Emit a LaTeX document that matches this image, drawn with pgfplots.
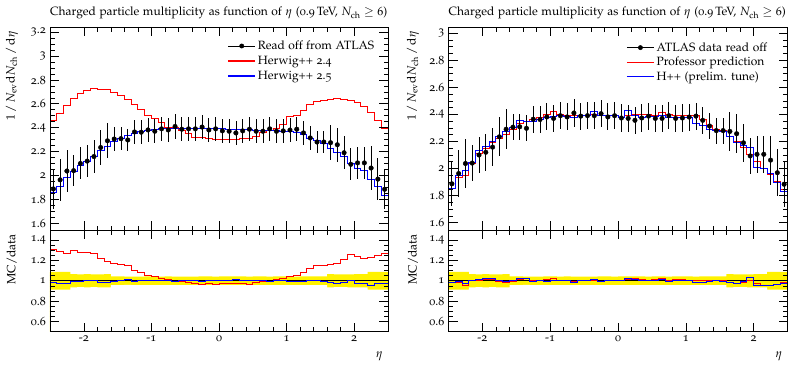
\documentclass[border=0pt]{standalone}
\usepackage[T1]{fontenc}
\usepackage[osf]{mathpazo}
\usepackage{pgfplots}
\pgfplotsset{compat=1.18}
\usepackage{pgfplotstable}

% xlo: bin left edge, xc: bin centre, d: data, e: data error,
% a: Herwig++ 2.4, b: Herwig++ 2.5, c: Professor prediction, f: H++ (prelim. tune)
\pgfplotstableread{
xlo xc d e a b c f
-2.5 -2.45 1.887 0.166 2.460 1.855 1.856 1.856
-2.4 -2.35 1.963 0.173 2.520 1.910 1.935 1.950
-2.3 -2.25 2.037 0.179 2.583 1.985 1.950 1.985
-2.2 -2.15 2.040 0.131 2.642 2.035 2.040 2.045
-2.1 -2.05 2.100 0.134 2.683 2.080 2.110 2.130
-2.0 -1.95 2.120 0.136 2.711 2.115 2.150 2.160
-1.9 -1.85 2.158 0.138 2.730 2.160 2.190 2.200
-1.8 -1.75 2.234 0.143 2.717 2.205 2.220 2.240
-1.7 -1.65 2.290 0.147 2.717 2.245 2.250 2.270
-1.6 -1.55 2.305 0.097 2.694 2.280 2.290 2.300
-1.5 -1.45 2.308 0.097 2.667 2.310 2.335 2.355
-1.4 -1.35 2.297 0.096 2.633 2.333 2.350 2.350
-1.3 -1.25 2.364 0.099 2.595 2.350 2.360 2.350
-1.2 -1.15 2.362 0.099 2.550 2.365 2.375 2.360
-1.1 -1.05 2.381 0.100 2.505 2.380 2.400 2.375
-1.0 -0.95 2.370 0.100 2.475 2.385 2.420 2.385
-0.9 -0.85 2.390 0.100 2.440 2.390 2.400 2.390
-0.8 -0.75 2.381 0.100 2.404 2.390 2.395 2.385
-0.7 -0.65 2.410 0.101 2.400 2.395 2.395 2.375
-0.6 -0.55 2.387 0.100 2.376 2.395 2.395 2.390
-0.5 -0.45 2.390 0.100 2.347 2.395 2.395 2.390
-0.4 -0.35 2.390 0.100 2.320 2.395 2.400 2.420
-0.3 -0.25 2.405 0.101 2.320 2.395 2.395 2.395
-0.2 -0.15 2.381 0.100 2.310 2.390 2.390 2.395
-0.1 -0.05 2.390 0.100 2.300 2.390 2.390 2.395
0.0 0.05 2.373 0.100 2.300 2.390 2.377 2.380
0.1 0.15 2.370 0.100 2.300 2.385 2.390 2.430
0.2 0.25 2.356 0.099 2.300 2.385 2.400 2.390
0.3 0.35 2.373 0.100 2.310 2.385 2.400 2.380
0.4 0.45 2.387 0.100 2.310 2.385 2.400 2.385
0.5 0.55 2.370 0.100 2.330 2.380 2.395 2.385
0.6 0.65 2.370 0.100 2.360 2.380 2.414 2.390
0.7 0.75 2.390 0.100 2.376 2.380 2.400 2.375
0.8 0.85 2.370 0.100 2.395 2.375 2.390 2.375
0.9 0.95 2.373 0.100 2.430 2.370 2.395 2.380
1.0 1.05 2.380 0.100 2.490 2.365 2.390 2.380
1.1 1.15 2.387 0.100 2.500 2.360 2.395 2.335
1.2 1.25 2.356 0.099 2.545 2.340 2.360 2.320
1.3 1.35 2.314 0.097 2.590 2.310 2.320 2.290
1.4 1.45 2.280 0.096 2.616 2.290 2.290 2.280
1.5 1.55 2.280 0.096 2.625 2.265 2.278 2.270
1.6 1.65 2.274 0.146 2.640 2.225 2.235 2.235
1.7 1.75 2.257 0.144 2.648 2.190 2.196 2.190
1.8 1.85 2.190 0.140 2.640 2.155 2.154 2.170
1.9 1.95 2.093 0.134 2.630 2.100 2.104 2.155
2.0 2.05 2.105 0.135 2.610 2.055 2.055 2.010
2.1 2.15 2.105 0.135 2.575 2.040 1.998 2.000
2.2 2.25 2.062 0.181 2.530 1.970 1.956 1.965
2.3 2.35 1.969 0.173 2.460 1.910 1.906 1.895
2.4 2.45 1.884 0.166 2.390 1.835 1.844 1.830
2.5 nan 1.884 0.166 2.390 1.835 1.844 1.830
}\tbl

\pgfplotsset{
  rivet/.style={
    scale only axis,
    xmin=-2.5, xmax=2.5,
    tick align=inside,
    xtick={-2,-1,0,1,2},
    minor x tick num=4,
    minor y tick num=3,
    major tick length=9pt,
    minor tick length=4.5pt,
    every tick/.style={black, line width=0.6pt},
    axis line style={line width=0.8pt},
    axis on top,
    /pgf/number format/assume math mode=true,
  },
  mainax/.style={
    rivet,
    height=203pt,
    xticklabels={},
    ylabel style={at={(axis description cs:-0.104,1)}, anchor=east, yshift=3pt},
    ylabel={$1\mkern3mu/\mkern3mu N_{\mathrm{ev}}\mathrm{d}N_{\mathrm{ch}}\mkern3mu/\mkern3mu\mathrm{d}\eta$},
    title style={at={(axis description cs:0,1)}, anchor=base west, yshift=5pt, inner sep=0pt},
    title={Charged particle multiplicity as function of $\eta$ (0.9\,TeV, $N_{\mathrm{ch}} \geq 6$)},
    legend cell align=left,
    legend style={draw=none, fill=none, inner sep=1pt},
  },
  ratioax/.style={
    rivet,
    height=101.5pt,
    ymin=0.5, ymax=1.5,
    ytick={0.6,0.8,1,1.2,1.4},
    ylabel style={at={(axis description cs:-0.104,1)}, anchor=east, yshift=3pt},
    ylabel={MC/data},
    xlabel={$\eta$},
    xlabel style={at={(axis description cs:1,0)}, anchor=base east, yshift=-26pt, xshift=-1pt},
  },
  datastyle/.style={black, only marks, mark=*, mark size=2.3pt,
    error bars/y dir=both, error bars/y explicit, error bars/error mark=none,
    error bars/error bar style={line width=0.8pt, black}},
  histo/.style={const plot, line width=1pt},
}

\begin{document}
\fontsize{12}{14.4}\selectfont
\begin{tikzpicture}[font=\fontsize{12}{14.4}\selectfont]
\path[use as bounding box] (0pt,0pt) rectangle (789pt,-364pt);

% ---------------- left main ----------------
\begin{axis}[mainax, at={(50pt,-27pt)}, anchor=north west, width=338pt,
  ymin=1.543, ymax=3.243, ytick={1.6,1.8,2,2.2,2.4,2.6,2.8,3,3.2},
  legend style={at={(axis description cs:0.522,0.948)}, anchor=north west, row sep=0.8pt}]
\addlegendimage{legend image code/.code={\draw[black, line width=0.8pt] (0pt,0pt) -- (27pt,0pt); \fill[black] (13.5pt,0pt) circle (2.2pt);}}
\addlegendentry{Read off from ATLAS}
\addlegendimage{legend image code/.code={\draw[color=red, line width=1.2pt] (0pt,0pt) -- (27pt,0pt);}}
\addlegendentry{Herwig++ 2.4}
\addlegendimage{legend image code/.code={\draw[color=blue, line width=1.2pt] (0pt,0pt) -- (27pt,0pt);}}
\addlegendentry{Herwig++ 2.5}
\addplot[histo, red, forget plot] table[x=xlo, y=a] {\tbl};
\addplot[histo, blue, forget plot] table[x=xlo, y=b] {\tbl};
\addplot[forget plot, datastyle] table[x=xc, y=d, y error=e] {\tbl};
\end{axis}

% ---------------- left ratio ----------------
\begin{axis}[ratioax, at={(50pt,-230pt)}, anchor=north west, width=338pt]
\addplot[fill=yellow, draw=none, const plot, forget plot] table[x=xlo, y expr=1+\thisrow{e}/\thisrow{d}] {\tbl} \closedcycle;
\addplot[fill=white, draw=none, const plot, forget plot] table[x=xlo, y expr=1-\thisrow{e}/\thisrow{d}] {\tbl} \closedcycle;
\addplot[black, line width=0.8pt, forget plot] coordinates {(-2.5,1) (2.5,1)};
\addplot[histo, red, forget plot] table[x=xlo, y expr=\thisrow{a}/\thisrow{d}] {\tbl};
\addplot[histo, blue, forget plot] table[x=xlo, y expr=\thisrow{b}/\thisrow{d}] {\tbl};
\end{axis}

% ---------------- right main ----------------
\begin{axis}[mainax, at={(448.5pt,-27pt)}, anchor=north west, width=339pt,
  ymin=1.546, ymax=3.045, ytick={1.6,1.8,2,2.2,2.4,2.6,2.8,3},
  ylabel style={at={(axis description cs:-0.096,1)}},
  legend style={at={(axis description cs:0.521,0.94)}, anchor=north west, row sep=0pt}]
\addlegendimage{legend image code/.code={\draw[black, line width=0.8pt] (0pt,0pt) -- (27pt,0pt); \fill[black] (13.5pt,0pt) circle (2.2pt);}}
\addlegendentry{ATLAS data read off}
\addlegendimage{legend image code/.code={\draw[color=red, line width=1.2pt] (0pt,0pt) -- (27pt,0pt);}}
\addlegendentry{Professor prediction}
\addlegendimage{legend image code/.code={\draw[color=blue, line width=1.2pt] (0pt,0pt) -- (27pt,0pt);}}
\addlegendentry{H++ (prelim. tune)}
\addplot[histo, red, forget plot] table[x=xlo, y=c] {\tbl};
\addplot[histo, blue, forget plot] table[x=xlo, y=f] {\tbl};
\addplot[forget plot, datastyle] table[x=xc, y=d, y error=e] {\tbl};
\end{axis}

% ---------------- right ratio ----------------
\begin{axis}[ratioax, at={(448.5pt,-230pt)}, anchor=north west, width=339pt,
  ylabel style={at={(axis description cs:-0.096,1)}}]
\addplot[fill=yellow, draw=none, const plot, forget plot] table[x=xlo, y expr=1+\thisrow{e}/\thisrow{d}] {\tbl} \closedcycle;
\addplot[fill=white, draw=none, const plot, forget plot] table[x=xlo, y expr=1-\thisrow{e}/\thisrow{d}] {\tbl} \closedcycle;
\addplot[black, line width=0.8pt, forget plot] coordinates {(-2.5,1) (2.5,1)};
\addplot[histo, red, forget plot] table[x=xlo, y expr=\thisrow{c}/\thisrow{d}] {\tbl};
\addplot[histo, blue, forget plot] table[x=xlo, y expr=\thisrow{f}/\thisrow{d}] {\tbl};
\end{axis}
\end{tikzpicture}
\end{document}
